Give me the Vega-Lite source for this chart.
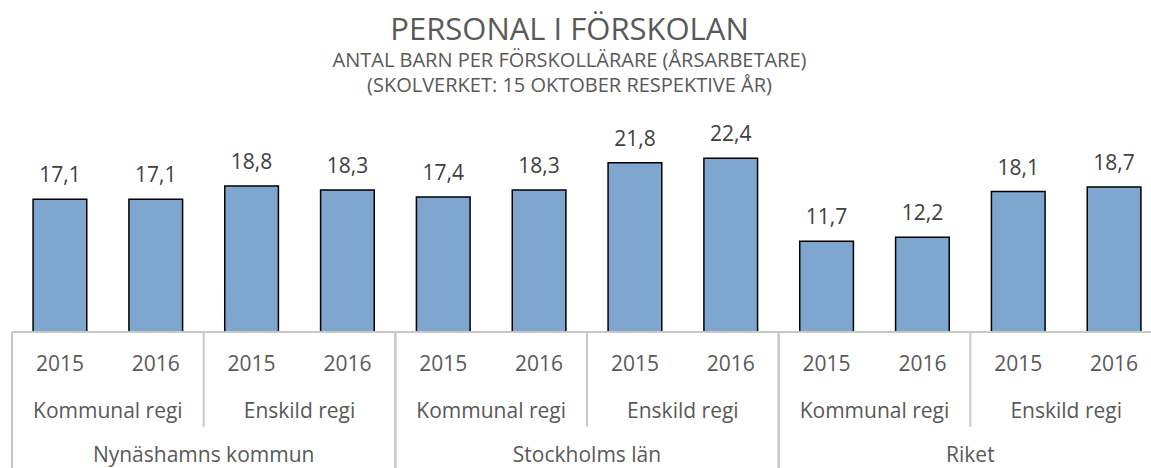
{
  "$schema": "https://vega.github.io/schema/vega-lite/v6.json",
  "width": 1139,
  "height": 358,
  "autosize": "none",
  "padding": {"left": 12, "top": 110, "right": 0, "bottom": 0},
  "title": {
    "text": "PERSONAL I FÖRSKOLAN",
    "subtitle": ["ANTAL BARN PER FÖRSKOLLÄRARE (ÅRSARBETARE)", "(SKOLVERKET: 15 OKTOBER RESPEKTIVE ÅR)"],
    "anchor": "middle",
    "dx": -12,
    "offset": 13,
    "font": "Open Sans",
    "fontSize": 31,
    "fontWeight": "normal",
    "color": "#595959",
    "subtitleFont": "Open Sans",
    "subtitleFontSize": 20,
    "subtitleColor": "#595959",
    "subtitleLineHeight": 25,
    "subtitlePadding": 4
  },
  "config": {
    "view": {"stroke": null},
    "locale": {"number": {"decimal": ",", "thousands": " ", "grouping": [3], "currency": ["", " kr"]}}
  },
  "datasets": {
    "bars": [
      {"key": "N-K-2015", "region": "Nynäshamns kommun", "reg": "Kommunal regi", "year": "2015", "value": 17.1},
      {"key": "N-K-2016", "region": "Nynäshamns kommun", "reg": "Kommunal regi", "year": "2016", "value": 17.1},
      {"key": "N-E-2015", "region": "Nynäshamns kommun", "reg": "Enskild regi", "year": "2015", "value": 18.8},
      {"key": "N-E-2016", "region": "Nynäshamns kommun", "reg": "Enskild regi", "year": "2016", "value": 18.3},
      {"key": "S-K-2015", "region": "Stockholms län", "reg": "Kommunal regi", "year": "2015", "value": 17.4},
      {"key": "S-K-2016", "region": "Stockholms län", "reg": "Kommunal regi", "year": "2016", "value": 18.3},
      {"key": "S-E-2015", "region": "Stockholms län", "reg": "Enskild regi", "year": "2015", "value": 21.8},
      {"key": "S-E-2016", "region": "Stockholms län", "reg": "Enskild regi", "year": "2016", "value": 22.4},
      {"key": "R-K-2015", "region": "Riket", "reg": "Kommunal regi", "year": "2015", "value": 11.7},
      {"key": "R-K-2016", "region": "Riket", "reg": "Kommunal regi", "year": "2016", "value": 12.2},
      {"key": "R-E-2015", "region": "Riket", "reg": "Enskild regi", "year": "2015", "value": 18.1},
      {"key": "R-E-2016", "region": "Riket", "reg": "Enskild regi", "year": "2016", "value": 18.7}
    ],
    "regs": [
      {"reg": "Kommunal regi", "first": "N-K-2015"},
      {"reg": "Enskild regi", "first": "N-E-2015"},
      {"reg": "Kommunal regi", "first": "S-K-2015"},
      {"reg": "Enskild regi", "first": "S-E-2015"},
      {"reg": "Kommunal regi", "first": "R-K-2015"},
      {"reg": "Enskild regi", "first": "R-E-2015"}
    ],
    "regions": [
      {"region": "Nynäshamns kommun", "start": "N-K-2015", "mid": "N-K-2016", "end": "N-E-2016"},
      {"region": "Stockholms län", "start": "S-K-2015", "mid": "S-K-2016", "end": "S-E-2016"},
      {"region": "Riket", "start": "R-K-2015", "mid": "R-K-2016", "end": "R-E-2016"}
    ]
  },
  "layer": [
    {
      "data": {"name": "bars"},
      "mark": {"type": "bar", "width": {"band": 0.56}, "fill": "#7FA6CE", "stroke": "#000000", "strokeWidth": 1.5},
      "encoding": {
        "x": {"field": "key", "type": "nominal", "axis": null,
              "scale": {"domain": ["N-K-2015", "N-K-2016", "N-E-2015", "N-E-2016", "S-K-2015", "S-K-2016", "S-E-2015", "S-E-2016", "R-K-2015", "R-K-2016", "R-E-2015", "R-E-2016"],
                        "range": [0, 1150], "paddingInner": 0, "paddingOuter": 0}},
        "y": {"field": "value", "type": "quantitative", "axis": null,
              "scale": {"domain": [-17.5, 28.6], "nice": false, "zero": false}}
      }
    },
    {
      "data": {"name": "bars"},
      "mark": {"type": "text", "font": "Open Sans", "fontSize": 21, "color": "#404040", "baseline": "alphabetic", "dy": -17},
      "encoding": {
        "x": {"field": "key", "type": "nominal"},
        "y": {"field": "value", "type": "quantitative"},
        "text": {"field": "value", "type": "quantitative", "format": ".1f"}
      }
    },
    {
      "data": {"name": "bars"},
      "mark": {"type": "text", "font": "Open Sans", "fontSize": 21, "color": "#595959", "baseline": "middle"},
      "encoding": {
        "x": {"field": "key", "type": "nominal"},
        "y": {"datum": -4.24},
        "text": {"field": "year", "type": "nominal"}
      }
    },
    {
      "data": {"name": "bars"},
      "mark": {"type": "rule", "color": "#C8C8C8", "strokeWidth": 2},
      "encoding": {
        "y": {"datum": 0}
      }
    },
    {
      "data": {"name": "regs"},
      "mark": {"type": "text", "font": "Open Sans", "fontSize": 21, "color": "#595959", "baseline": "middle"},
      "encoding": {
        "x": {"field": "first", "type": "nominal", "bandPosition": 1},
        "y": {"datum": -10.3},
        "text": {"field": "reg", "type": "nominal"}
      }
    },
    {
      "data": {"name": "regions"},
      "mark": {"type": "rule", "color": "#C8C8C8", "strokeWidth": 2},
      "encoding": {
        "x": {"field": "start", "type": "nominal", "bandPosition": 0},
        "y": {"datum": 0},
        "y2": {"datum": -17.5}
      }
    },
    {
      "data": {"name": "regions"},
      "mark": {"type": "rule", "color": "#C8C8C8", "strokeWidth": 2},
      "encoding": {
        "x": {"field": "end", "type": "nominal", "bandPosition": 1},
        "y": {"datum": 0},
        "y2": {"datum": -17.5}
      }
    },
    {
      "data": {"name": "regions"},
      "mark": {"type": "rule", "color": "#C8C8C8", "strokeWidth": 2},
      "encoding": {
        "x": {"field": "mid", "type": "nominal", "bandPosition": 1},
        "y": {"datum": 0},
        "y2": {"datum": -12.2}
      }
    },
    {
      "data": {"name": "regions"},
      "mark": {"type": "text", "font": "Open Sans", "fontSize": 21, "color": "#595959", "baseline": "middle"},
      "encoding": {
        "x": {"field": "mid", "type": "nominal", "bandPosition": 1},
        "y": {"datum": -16.0},
        "text": {"field": "region", "type": "nominal"}
      }
    }
  ]
}
